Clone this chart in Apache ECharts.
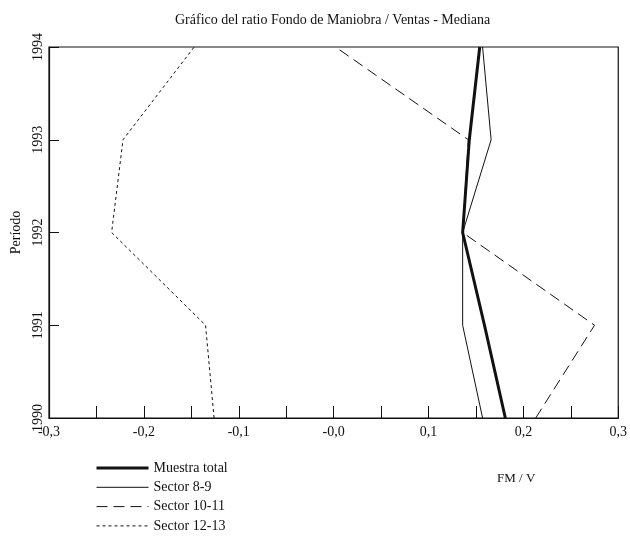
<!DOCTYPE html>
<html>
<head>
<meta charset="utf-8">
<script src="https://cdn.jsdelivr.net/npm/echarts@6/dist/echarts.min.js"></script>
<style>
  html, body { margin: 0; padding: 0; background: #fff; }
  #chart { width: 630px; height: 544px; }
</style>
</head>
<body>
<div id="chart"></div>
<script>
// Periods (y axis) and median FM/V ratio per group, 1990 -> 1994
const years = [1990, 1991, 1992, 1993, 1994];
const muestraTotal = [0.181, 0.159, 0.136, 0.143, 0.154];
const sector89 = [0.157, 0.136, 0.136, 0.166, 0.157];
const sector1011 = [0.213, 0.275, 0.136, 0.142, 0.002];
const sector1213 = [-0.126, -0.135, -0.234, -0.222, -0.147];

const seriesNames = ['Muestra total', 'Sector 8-9', 'Sector 10-11', 'Sector 12-13'];
const xTickLabels = ['-0,3', '-0,2', '-0,1', '-0,0', '0,1', '0,2', '0,3'];

const FONT = '"Liberation Serif", "DejaVu Serif", serif';
const INK = '#111';

function pairs(values) {
  return values.map((v, i) => [v, years[i]]);
}

function xLabel(v) {
  const k = Math.round(v * 100);
  if (k % 10 !== 0) return '';
  return xTickLabels[(k + 30) / 10];
}

const styles = [
  { width: 3, type: 'solid' },
  { width: 1, type: 'solid' },
  { width: 1, type: [11, 6] },
  { width: 1, type: [3, 3] }
];
const dataSets = [muestraTotal, sector89, sector1011, sector1213];

const chart = echarts.init(document.getElementById('chart'), null, { renderer: 'canvas' });
chart.setOption({
  animation: false,
  backgroundColor: '#fff',
  title: {
    text: 'Gráfico del ratio Fondo de Maniobra / Ventas - Mediana',
    left: 170,
    top: 8,
    textStyle: { fontFamily: FONT, fontSize: 14, fontWeight: 'normal', color: INK }
  },
  grid: {
    left: 49, right: 8, top: 47, bottom: 126,
    show: true, borderColor: INK, borderWidth: 1.2, backgroundColor: 'transparent'
  },
  legend: {
    orient: 'vertical',
    left: 95,
    top: 461,
    height: 90,
    padding: 0,
    itemWidth: 52,
    itemHeight: 12,
    itemGap: 5.3,
    itemStyle: { opacity: 0 },
    data: seriesNames.map((n, i) => ({
      name: n,
      lineStyle: { width: styles[i].width, type: styles[i].type, color: INK }
    })),
    textStyle: { fontFamily: FONT, fontSize: 14, color: INK }
  },
  xAxis: {
    type: 'value',
    min: -0.3,
    max: 0.3,
    interval: 0.05,
    axisLine: { show: true, onZero: false, lineStyle: { color: INK, width: 1.2 } },
    axisTick: { show: true, inside: true, length: 12, lineStyle: { color: INK, width: 1 } },
    splitLine: { show: false },
    axisLabel: {
      formatter: xLabel,
      fontFamily: FONT, fontSize: 14, color: INK, margin: 7,
      showMinLabel: true, showMaxLabel: true
    }
  },
  yAxis: {
    type: 'value',
    min: 1990,
    max: 1994,
    interval: 1,
    name: 'Período',
    nameLocation: 'middle',
    nameGap: 26,
    nameRotate: 90,
    nameTextStyle: { fontFamily: FONT, fontSize: 14, color: INK },
    axisLine: { show: true, onZero: false, lineStyle: { color: INK, width: 1.2 } },
    axisTick: { show: true, inside: true, length: 10, lineStyle: { color: INK, width: 1 } },
    splitLine: { show: false },
    axisLabel: {
      rotate: 90,
      formatter: v => String(v),
      fontFamily: FONT, fontSize: 14, color: INK, margin: 4,
      showMinLabel: true, showMaxLabel: true
    }
  },
  graphic: [{
    type: 'text',
    left: 497,
    top: 472,
    style: { text: 'FM / V', font: '13px ' + FONT, fill: INK }
  }],
  series: dataSets.map((vals, i) => ({
    name: seriesNames[i],
    type: 'line',
    data: pairs(vals),
    symbol: 'none',
    color: INK,
    lineStyle: { color: INK, width: styles[i].width, type: styles[i].type }
  }))
});
</script>
</body>
</html>
